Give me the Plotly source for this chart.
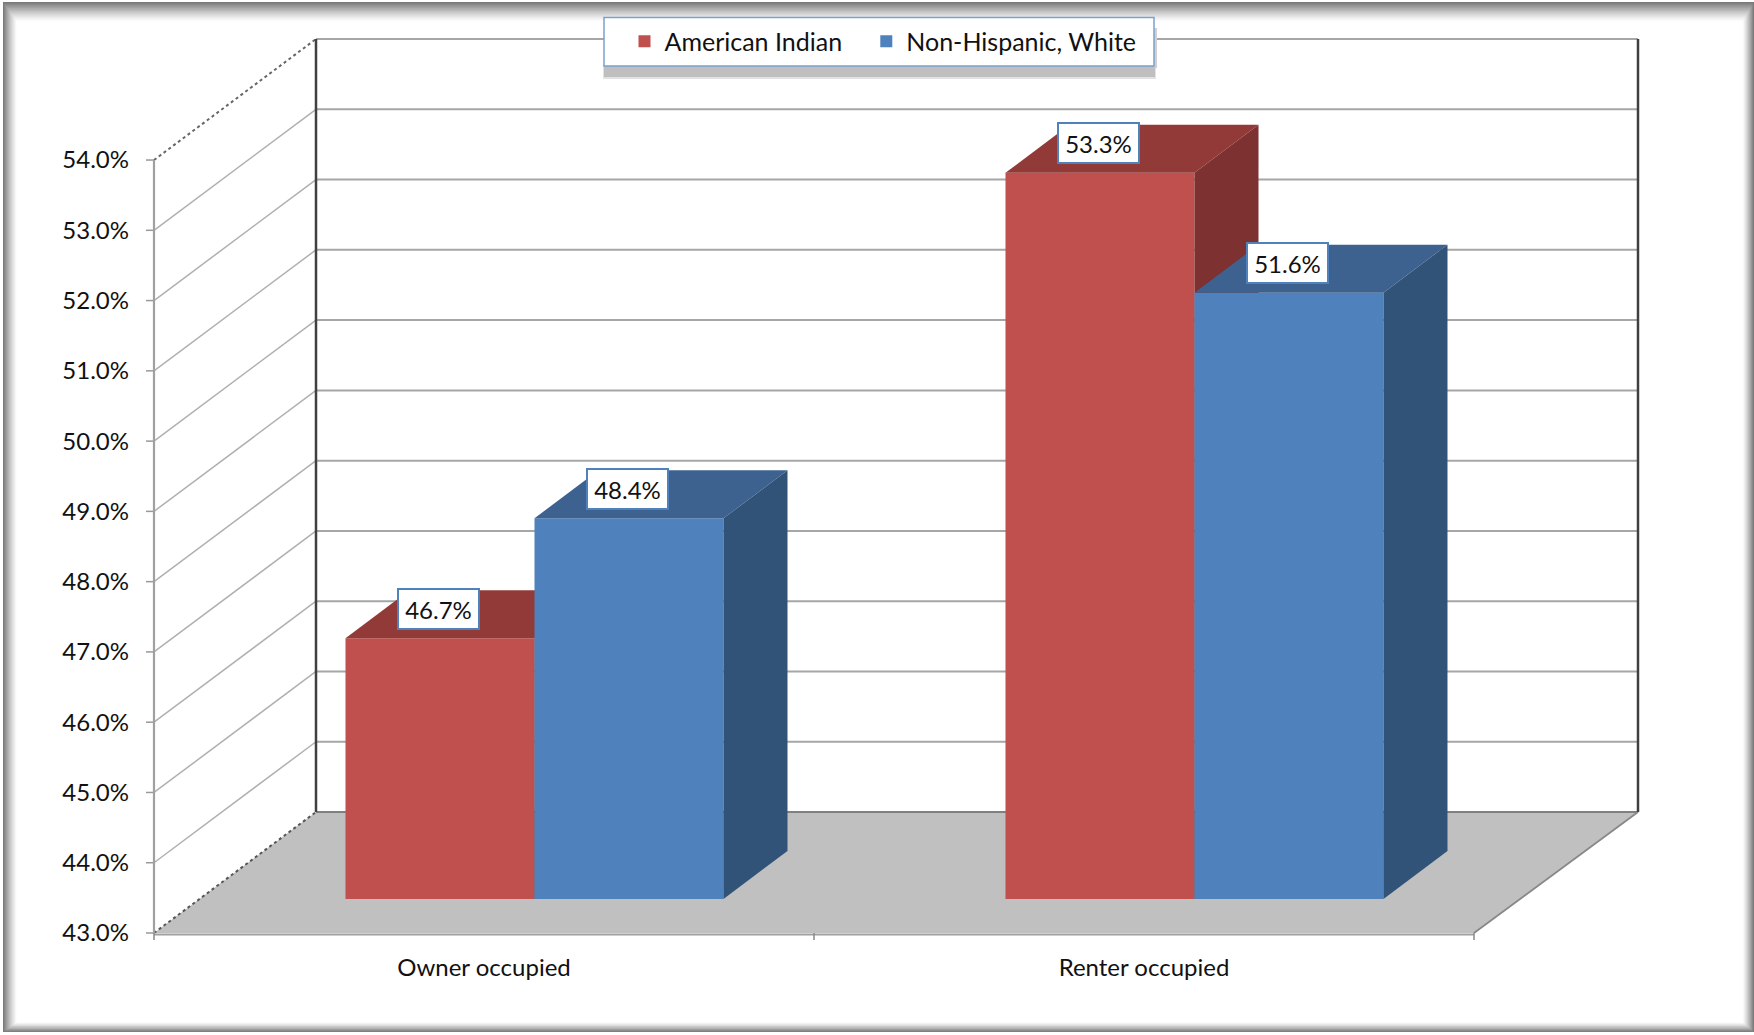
import plotly.graph_objects as go

categories = ["Owner occupied", "Renter occupied"]
american_indian = [46.7, 53.3]
non_hispanic_white = [48.4, 51.6]
y_ticks = [43, 44, 45, 46, 47, 48, 49, 50, 51, 52, 53, 54]
y_tick_labels = ["43.0%", "44.0%", "45.0%", "46.0%", "47.0%", "48.0%", "49.0%", "50.0%", "51.0%", "52.0%", "53.0%", "54.0%"]

W, H = 1754, 1035
PX_X, PX_Y = 660.0, 70.27      # pixels per category, per percentage point
X0_PX, Y0_PX = 154.0, 933.0    # pixel position of the front-left corner
WALL_DX, WALL_DY = 162 / PX_X, 121 / PX_Y   # depth of the whole box
RIGHT_EXTRA = 2 / PX_X
BAR_DX, BAR_DY = 64 / PX_X, 48 / PX_Y       # depth of a bar
BAR_W = 189 / PX_X
BAR_SHIFT_X = 0.0765
BASE = 43 + 34 / PX_Y
BAR_STRETCH = 1.0033           # the bars' own scale is a touch taller than the axis
N = len(categories)

DOM = (146, 1645, 945, 30)
x_range = [(DOM[0] - X0_PX) / PX_X, (DOM[1] - X0_PX) / PX_X]
y_range = [43 + (Y0_PX - DOM[2]) / PX_Y, 43 + (Y0_PX - DOM[3]) / PX_Y]
x_domain = [DOM[0] / W, DOM[1] / W]
y_domain = [1 - DOM[2] / H, 1 - DOM[3] / H]

FONT = "Lato"
TXT = "#111111"
RED, RED_TOP, RED_SIDE = "#C0504D", "#923A38", "#7D3130"
BLUE, BLUE_TOP, BLUE_SIDE = "#4F81BD", "#3D6290", "#325378"
GRID = "#A6A6A6"

shapes = []
def line(x0, y0, x1, y1, color=GRID, width=2, dash="solid", xref="x", yref="y", layer="below"):
    shapes.append(dict(type="line", xref=xref, yref=yref, x0=x0, y0=y0, x1=x1, y1=y1,
                       layer=layer, line=dict(color=color, width=width, dash=dash)))
def rect(x0, y0, x1, y1, fill, layer="below"):
    shapes.append(dict(type="rect", xref="paper", yref="paper", x0=x0 / W, x1=x1 / W,
                       y0=1 - y0 / H, y1=1 - y1 / H, fillcolor=fill, line=dict(width=0), layer=layer))

# picture frame: nested rectangles fading from grey to white
BANDS = 16
for k in range(BANDS + 1):
    t = 1 - k / BANDS
    g = int(round(255 - (255 - 122) * t ** 1.25))
    rect(3 + 0.85 * k, 2 + 1.2 * k, W - 0.7 * k, 1032 - 0.6 * k, f"rgb({g},{g},{g})")

# floor
shapes.append(dict(type="path", xref="x", yref="y", layer="below", fillcolor="#C0C0C0", line=dict(width=0),
    path=f"M0,43 L{N},43 L{N + WALL_DX + RIGHT_EXTRA},{43 + WALL_DY} L{WALL_DX},{43 + WALL_DY} Z"))

# gridlines on the left and back walls
x_back_r = N + WALL_DX + RIGHT_EXTRA
for v in y_ticks:
    back = v + WALL_DY
    if v == y_ticks[0]:
        line(WALL_DX, back, x_back_r, back, "#808080", 2.2)
        line(0, v, WALL_DX, back, "#555555", 2, "dot")
    elif v == y_ticks[-1]:
        line(WALL_DX, back, x_back_r, back)
        line(0, v, WALL_DX, back, "#666666", 2, "dot")
    else:
        line(WALL_DX, back, x_back_r, back)
        line(0, v, WALL_DX, back, "#B0B0B0", 1.5)
    line(-8 / PX_X, v, 0, v, "#999999", 1.5)   # y tick mark

line(0, 43, 0, y_ticks[-1], "#A0A0A0", 2.2)
line(0, 43 - 1.5 / PX_Y, N, 43 - 1.5 / PX_Y, "#A0A0A0", 2)
line(N, 43, x_back_r, 43 + WALL_DY, "#888888", 1.8)
for e in (WALL_DX, x_back_r):
    line(e, 43 + WALL_DY, e, y_ticks[-1] + WALL_DY, "#404040", 2.5)
for i in range(N + 1):
    line(i, 43, i, 43 - 7 / PX_Y, "#888888", 1.5)

# legend box and its shadow (legend text sits on top)
rect(603, 64, 1156, 79, "#E2E2E2", layer="above")
rect(604, 64, 1155, 77, "#BFBFBF", layer="above")
rect(1154, 28, 1157, 68, "#D0D0D0", layer="above")
shapes.append(dict(type="rect", xref="paper", yref="paper", x0=604 / W, x1=1154 / W,
                   y0=1 - 17.5 / H, y1=1 - 66 / H, fillcolor="white",
                   line=dict(color="#7BA0CD", width=1.5), layer="above"))


def centres(shift):
    return [i + 0.5 + shift for i in range(N)]

def depth_traces(values, centers, top_color, side_color, xa, ya):
    out = []
    for c, v in zip(centers, values):
        l, r = c - BAR_W / 2, c + BAR_W / 2
        b = BASE
        t = b + (v - 43) * BAR_STRETCH
        out.append(go.Scatter(x=[l, r, r + BAR_DX, l + BAR_DX, l], y=[t, t, t + BAR_DY, t + BAR_DY, t],
                              mode="lines", fill="toself", fillcolor=top_color, line=dict(width=0),
                              hoverinfo="skip", showlegend=False, xaxis=xa, yaxis=ya))
        out.append(go.Scatter(x=[r, r + BAR_DX, r + BAR_DX, r, r], y=[t, t + BAR_DY, b + BAR_DY, b, t],
                              mode="lines", fill="toself", fillcolor=side_color, line=dict(width=0),
                              hoverinfo="skip", showlegend=False, xaxis=xa, yaxis=ya))
    return out

red_c = centres(BAR_SHIFT_X - BAR_W / 2)
blue_c = centres(BAR_SHIFT_X + BAR_W / 2)

fig = go.Figure()
fig.add_trace(go.Bar(x=red_c, y=[(v - 43) * BAR_STRETCH for v in american_indian], base=[BASE] * N, width=BAR_W,
                     name="American Indian\u00a0\u00a0\u00a0", marker=dict(color=RED, line=dict(width=0)),
                     customdata=american_indian, hovertemplate="%{customdata}%<extra></extra>",
                     xaxis="x", yaxis="y"))
fig.add_traces(depth_traces(american_indian, red_c, RED_TOP, RED_SIDE, "x", "y"))
fig.add_trace(go.Bar(x=blue_c, y=[(v - 43) * BAR_STRETCH for v in non_hispanic_white], base=[BASE] * N, width=BAR_W,
                     name="Non-Hispanic, White", marker=dict(color=BLUE, line=dict(width=0)),
                     customdata=non_hispanic_white, hovertemplate="%{customdata}%<extra></extra>",
                     xaxis="x2", yaxis="y2"))
fig.add_traces(depth_traces(non_hispanic_white, blue_c, BLUE_TOP, BLUE_SIDE, "x2", "y2"))

annotations = []
for cs, vals in ((red_c, american_indian), (blue_c, non_hispanic_white)):
    for c, v in zip(cs, vals):
        annotations.append(dict(x=c - 1 / PX_X, y=BASE + (v - 43) * BAR_STRETCH + 29.5 / PX_Y, xref="x", yref="y",
                                text=f"{v:.1f}%", showarrow=False, xanchor="center", yanchor="middle",
                                width=77, height=36, bgcolor="white", bordercolor=BLUE, borderwidth=2,
                                borderpad=1, font=dict(family=FONT, size=24, color=TXT)))

fig.update_layout(
    width=W, height=H, margin=dict(l=0, r=0, t=0, b=0, pad=0, autoexpand=False),
    paper_bgcolor="white", plot_bgcolor="rgba(0,0,0,0)",
    barmode="overlay", shapes=shapes, annotations=annotations,
    font=dict(family=FONT, size=24, color=TXT),
    legend=dict(orientation="h", x=624.5 / W, y=1 - 41.5 / H, xanchor="left", yanchor="middle",
                bgcolor="rgba(0,0,0,0)", borderwidth=0,
                font=dict(family=FONT, size=25, color=TXT)),
    xaxis=dict(domain=x_domain, range=x_range, tickmode="array",
               tickvals=[i + 0.5 for i in range(N)], ticktext=categories, ticks="",
               ticklabelstandoff=6, showgrid=False, zeroline=False, showline=False, fixedrange=True,
               tickfont=dict(family=FONT, size=24, color=TXT)),
    yaxis=dict(domain=y_domain, range=y_range, tickmode="array", tickvals=y_ticks,
               ticktext=y_tick_labels, ticks="", ticklabelstandoff=16,
               showgrid=False, zeroline=False, showline=False, fixedrange=True,
               tickfont=dict(family=FONT, size=24, color=TXT)),
    xaxis2=dict(domain=x_domain, range=x_range, overlaying="x", anchor="y2", visible=False, fixedrange=True),
    yaxis2=dict(domain=y_domain, range=y_range, overlaying="y", anchor="x2", visible=False, fixedrange=True),
)

fig.write_html("out.html", config=dict(displayModeBar=False),
               post_script="document.body.style.margin='0';document.body.style.overflow='hidden';")
